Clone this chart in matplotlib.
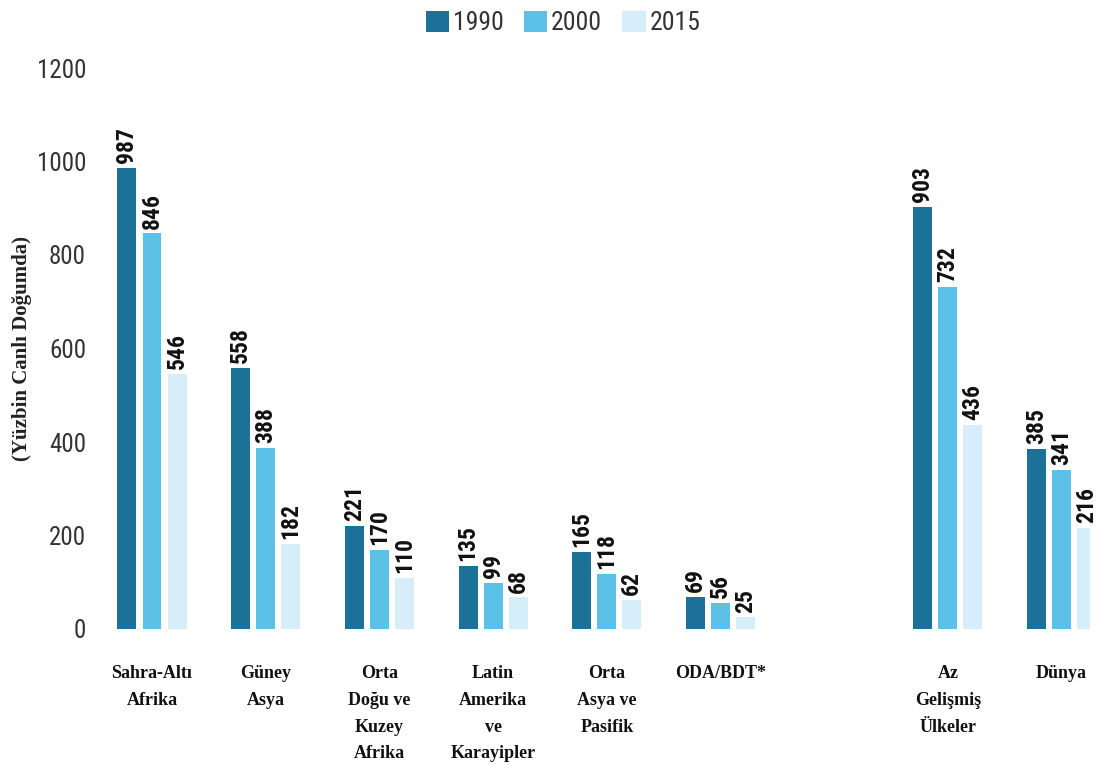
import matplotlib
matplotlib.use("Agg")
import matplotlib.pyplot as plt
from matplotlib import font_manager
import numpy as np

categories = ["Sahra-Altı\nAfrika", "Güney\nAsya", "Orta\nDoğu ve\nKuzey\nAfrika",
              "Latin\nAmerika\nve\nKarayipler", "Orta\nAsya ve\nPasifik", "ODA/BDT*",
              "Az\nGelişmiş\nÜlkeler", "Dünya"]
positions = [0, 1, 2, 3, 4, 5, 7, 8]
series_names = ["1990", "2000", "2015"]
v1990 = [987, 558, 221, 135, 165, 69, 903, 385]
v2000 = [846, 388, 170, 99, 118, 56, 732, 341]
v2015 = [546, 182, 110, 68, 62, 25, 436, 216]
yticks = [0, 200, 400, 600, 800, 1000, 1200]
ylabel = "(Yüzbin Canlı Doğumda)"

colors = ["#1c7199", "#5cc1e6", "#d5eef9"]

names = {f.name for f in font_manager.fontManager.ttflist}
narrow = "DejaVu Sans"
for cand in ["Roboto Condensed", "Archivo Narrow", "PT Sans Narrow", "IBM Plex Sans Condensed",
             "Open Sans Condensed", "Barlow Condensed", "Hubot Sans"]:
    if cand in names:
        narrow = cand
        break

fig = plt.figure(figsize=(10.96, 7.65), dpi=100)
ax = fig.add_axes([100/1096, 1-629/765, 990/1096, 561/765])

w = 0.167
step = 0.22
pos = np.array(positions, dtype=float)
for i, (vals, c, nm) in enumerate(zip([v1990, v2000, v2015], colors, series_names)):
    x = pos + (i - 1) * step
    ax.bar(x, vals, width=w, color=c, label=nm)
    for xi, v in zip(x, vals):
        ax.text(xi, v + 10, str(v), rotation=90, ha="center", va="bottom",
                fontsize=17, fontweight="bold", family=narrow, color="#111111")

ax.set_ylim(0, 1200)
ax.set_xlim((100-152)/113.7, (1090-152)/113.7)
ax.set_yticks(yticks)
ax.set_yticklabels([str(t) for t in yticks], family=narrow, fontsize=18, color="#333333")
ax.tick_params(axis="y", length=0, pad=10)
ax.set_xticks(pos)
ax.set_xticklabels(categories, family="Liberation Serif", fontweight="bold", fontsize=13,
                   va="top", linespacing=1.75, color="#111111")
ax.tick_params(axis="x", length=0, pad=26)
for s in ax.spines.values():
    s.set_visible(False)

fig.text(22/1096, 1-349/765, ylabel, rotation=90, ha="center", va="center",
         family="Liberation Serif", fontweight="bold", fontsize=15, color="#222222")

leg = fig.legend(loc="center", bbox_to_anchor=(563/1096, 1-23/765), ncol=3, frameon=False,
                 prop={"family": narrow, "size": 18.5}, handlelength=0.9, handleheight=0.9,
                 handletextpad=0.15, columnspacing=0.8, borderpad=0)
for t in leg.get_texts():
    t.set_color("#333333")

fig.savefig("out.png", dpi=100, facecolor="white")
